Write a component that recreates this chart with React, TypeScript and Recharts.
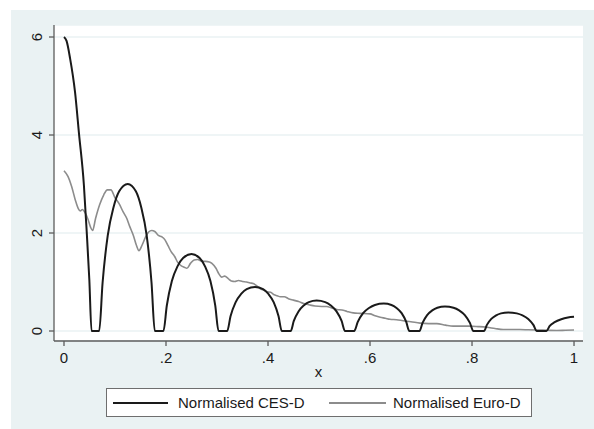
import React from 'react';
import { LineChart, Line, XAxis, YAxis, CartesianGrid, Legend } from 'recharts';

const cesX = [0, 0.005, 0.012, 0.0216, 0.0294, 0.039, 0.0445, 0.0497, 0.054, 0.069, 0.0757, 0.0858, 0.097, 0.1082, 0.125, 0.1409, 0.1515, 0.1621, 0.1716, 0.178, 0.195, 0.2016, 0.2115, 0.2225, 0.2335, 0.25, 0.2659, 0.2765, 0.2871, 0.2966, 0.303, 0.32, 0.3265, 0.3364, 0.3473, 0.3582, 0.3745, 0.3903, 0.4008, 0.4113, 0.4207, 0.427, 0.4445, 0.4506, 0.4598, 0.47, 0.4801, 0.4954, 0.5121, 0.5232, 0.5343, 0.5443, 0.551, 0.569, 0.576, 0.5864, 0.598, 0.6096, 0.627, 0.642, 0.652, 0.662, 0.671, 0.677, 0.697, 0.703, 0.712, 0.722, 0.732, 0.747, 0.7637, 0.7748, 0.7859, 0.7959, 0.8026, 0.8235, 0.8292, 0.8378, 0.8473, 0.8568, 0.871, 0.8878, 0.899, 0.9102, 0.9203, 0.927, 0.946, 0.952, 0.962, 0.975, 0.988, 1.0];
const cesY = [6, 5.92, 5.56, 4.88, 4.03, 2.98, 2.03, 1.04, 0, 0, 0.99, 1.95, 2.52, 2.85, 3.0, 2.85, 2.52, 1.95, 0.99, 0, 0, 0.52, 1.02, 1.32, 1.49, 1.57, 1.49, 1.32, 1.02, 0.52, 0, 0, 0.3, 0.585, 0.756, 0.855, 0.9, 0.855, 0.756, 0.585, 0.3, 0, 0, 0.205, 0.4, 0.52, 0.59, 0.62, 0.59, 0.52, 0.4, 0.205, 0, 0, 0.185, 0.364, 0.47, 0.532, 0.56, 0.532, 0.47, 0.364, 0.185, 0, 0, 0.165, 0.325, 0.42, 0.475, 0.5, 0.475, 0.42, 0.325, 0.165, 0, 0, 0.125, 0.247, 0.32, 0.36, 0.38, 0.36, 0.32, 0.247, 0.125, 0, 0, 0.1, 0.18, 0.24, 0.275, 0.29];

const euroX = [0, 0.008, 0.015, 0.022, 0.028, 0.032, 0.036, 0.041, 0.047, 0.052, 0.056, 0.062, 0.07, 0.078, 0.085, 0.092, 0.1, 0.108, 0.116, 0.123, 0.129, 0.136, 0.142, 0.147, 0.153, 0.16, 0.166, 0.172, 0.178, 0.185, 0.192, 0.198, 0.204, 0.21, 0.217, 0.223, 0.23, 0.236, 0.241, 0.248, 0.255, 0.262, 0.27, 0.278, 0.285, 0.29, 0.298, 0.304, 0.309, 0.315, 0.322, 0.328, 0.335, 0.342, 0.35, 0.358, 0.365, 0.371, 0.378, 0.385, 0.392, 0.398, 0.405, 0.412, 0.418, 0.424, 0.432, 0.44, 0.45, 0.46, 0.47, 0.482, 0.492, 0.505, 0.515, 0.525, 0.535, 0.545, 0.555, 0.567, 0.58, 0.6, 0.61, 0.62, 0.63, 0.639, 0.652, 0.665, 0.68, 0.698, 0.715, 0.731, 0.748, 0.763, 0.78, 0.796, 0.812, 0.829, 0.845, 0.861, 0.878, 0.894, 0.91, 0.927, 0.947, 0.966, 0.983, 1.0];
const euroY = [3.27, 3.15, 2.95, 2.68, 2.5, 2.45, 2.48, 2.42, 2.28, 2.12, 2.05, 2.3, 2.58, 2.78, 2.88, 2.88, 2.72, 2.6, 2.43, 2.3, 2.13, 1.95, 1.75, 1.64, 1.75, 1.92, 2.02, 2.05, 2.03, 1.95, 1.92, 1.86, 1.74, 1.62, 1.52, 1.4, 1.33, 1.3, 1.28, 1.38, 1.45, 1.46, 1.42, 1.42, 1.41, 1.38, 1.28, 1.16, 1.1, 1.12, 1.07, 1.02, 1.01, 1.03, 1.01, 1.0, 0.98, 0.97, 0.92, 0.86, 0.83, 0.8, 0.79, 0.74, 0.72, 0.7, 0.7, 0.66, 0.63, 0.6, 0.56, 0.53, 0.51, 0.5, 0.5, 0.47, 0.44, 0.43, 0.4, 0.37, 0.36, 0.35, 0.31, 0.28, 0.26, 0.24, 0.23, 0.21, 0.19, 0.16, 0.15, 0.15, 0.12, 0.1, 0.1, 0.1, 0.09, 0.075, 0.05, 0.03, 0.03, 0.03, 0.025, 0.02, 0.015, 0.01, 0.015, 0.02];

const xTicks = [0, 0.2, 0.4, 0.6, 0.8, 1];
const xTickLabels = ['0', '.2', '.4', '.6', '.8', '1'];
const yTicks = [0, 2, 4, 6];
const yTickLabels = ['0', '2', '4', '6'];
const seriesNames = ['Normalised CES-D', 'Normalised Euro-D'];
const xAxisTitle = 'x';

const cesData = cesX.map((x, i) => ({ x, y: cesY[i] }));
const euroData = euroX.map((x, i) => ({ x, y: euroY[i] }));

const FONT = '"Liberation Sans", Arial, Helvetica, sans-serif';
const BG = '#EAF2F3';
const AXIS = '#5c5c5c';

const XTick = (props: any) => {
  const { x, y, payload } = props;
  const idx = xTicks.indexOf(payload.value);
  return (
    <text x={x} y={y + 15} textAnchor="middle" fontSize={15} fontFamily={FONT} fill="#1a1a1a">
      {idx >= 0 ? xTickLabels[idx] : payload.value}
    </text>
  );
};

const YTick = (props: any) => {
  const { x, y, payload } = props;
  const idx = yTicks.indexOf(payload.value);
  const bx = x - 4.5;
  return (
    <text x={bx} y={y} transform={`rotate(-90, ${bx}, ${y})`} textAnchor="middle" fontSize={15} fontFamily={FONT} fill="#1a1a1a">
      {idx >= 0 ? yTickLabels[idx] : payload.value}
    </text>
  );
};

const XLabel = (props: any) => {
  const vb = props.viewBox || {};
  return (
    <text x={vb.x + vb.width / 2} y={vb.y + 36} textAnchor="middle" fontSize={15} fontFamily={FONT} fill="#1a1a1a">
      {xAxisTitle}
    </text>
  );
};

const LegendBox = () => (
  <div
    style={{
      position: 'relative',
      width: 426,
      height: 29,
      boxSizing: 'border-box',
      border: '1px solid #6e6e6e',
      background: '#ffffff',
      fontFamily: FONT,
      fontSize: 15,
      color: '#1a1a1a',
    }}
  >
    <div style={{ position: 'absolute', left: 6, top: 13, width: 55, height: 2, background: '#1a1a1a' }} />
    <span style={{ position: 'absolute', left: 71, top: 5, lineHeight: '17px', whiteSpace: 'nowrap' }}>{seriesNames[0]}</span>
    <div style={{ position: 'absolute', left: 222, top: 13, width: 57, height: 1.5, background: '#8c8c8c' }} />
    <span style={{ position: 'absolute', left: 286, top: 5, lineHeight: '17px', whiteSpace: 'nowrap' }}>{seriesNames[1]}</span>
  </div>
);

export default function App() {
  return (
    <div style={{ position: 'absolute', left: 0, top: 0, width: 594, height: 429, background: '#ffffff', overflow: 'hidden' }}>
      <div style={{ position: 'absolute', left: 11, top: 10, width: 583, height: 419, background: BG }} />
      <div style={{ position: 'absolute', left: 0, top: 0 }}>
        <LineChart width={594} height={429} margin={{ top: 25, right: 11, bottom: 29, left: 14 }}>
          <CartesianGrid vertical={false} horizontal={true} stroke={BG} strokeWidth={1.5} fill="#ffffff" />
          <XAxis
            type="number"
            dataKey="x"
            domain={[-0.0196, 1.0176]}
            allowDataOverflow
            ticks={xTicks}
            interval={0}
            height={30}
            tickSize={5}
            tickMargin={2}
            axisLine={{ stroke: AXIS, strokeWidth: 1.3 }}
            tickLine={{ stroke: AXIS, strokeWidth: 1.3 }}
            tick={<XTick />}
            label={<XLabel />}
          />
          <YAxis
            type="number"
            dataKey="y"
            domain={[-0.204, 6.245]}
            allowDataOverflow
            ticks={yTicks}
            interval={0}
            width={40}
            tickSize={5}
            tickMargin={2}
            axisLine={{ stroke: AXIS, strokeWidth: 1.3 }}
            tickLine={{ stroke: AXIS, strokeWidth: 1.3 }}
            tick={<YTick />}
          />
          <Line data={euroData} dataKey="y" name={seriesNames[1]} type="monotone" stroke="#8c8c8c" strokeWidth={1.6} dot={false} isAnimationActive={false} />
          <Line data={cesData} dataKey="y" name={seriesNames[0]} type="monotone" stroke="#1a1a1a" strokeWidth={2} dot={false} isAnimationActive={false} />
          <Legend
            verticalAlign="bottom"
            align="left"
            content={<LegendBox />}
            wrapperStyle={{ position: 'absolute', left: 106, top: 388, width: 426, height: 29, bottom: 'auto' }}
          />
        </LineChart>
      </div>
    </div>
  );
}
